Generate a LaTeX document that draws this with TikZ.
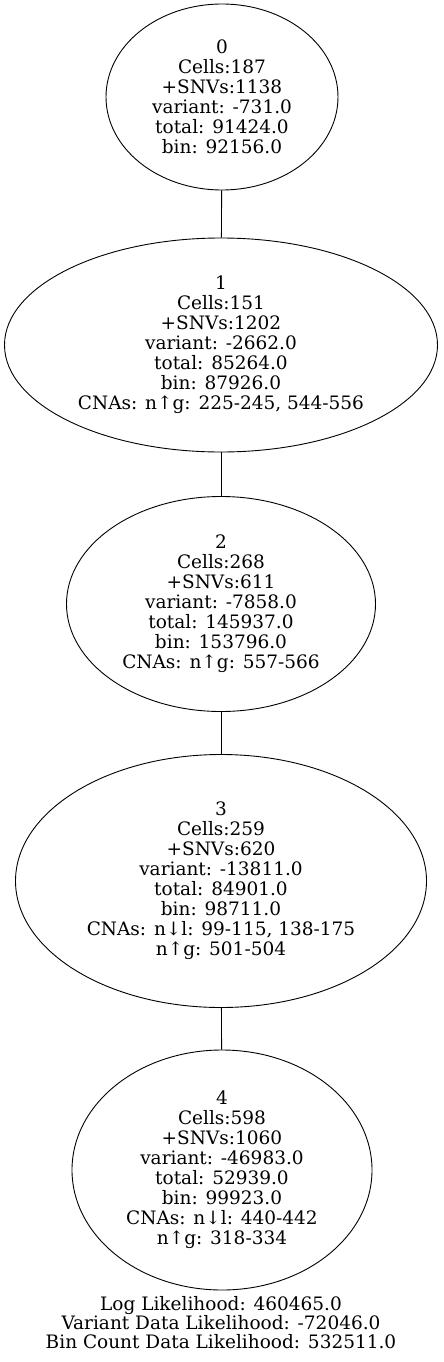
\documentclass[tikz,border=0pt]{standalone}
\usepackage{fontspec}
\setmainfont{DejaVu Serif}
\usetikzlibrary{shapes.geometric}

\tikzset{
    clone/.style={draw, ellipse, inner sep=0pt, align=center, line width=0.9pt,
        font=\fontsize{18.5}{20}\selectfont},
}

\begin{document}
\begin{tikzpicture}[x=1pt, y=-1pt]
    \useasboundingbox (0,0) rectangle (444,1362);

    \node[clone, minimum width=232, minimum height=186] (n0) at (222,97)
        {0\\Cells:187\\+SNVs:1138\\variant: -731.0\\total: 91424.0\\bin: 92156.0};
    \node[clone, minimum width=433, minimum height=214] (n1) at (221,345)
        {1\\Cells:151\\+SNVs:1202\\variant: -2662.0\\total: 85264.0\\bin: 87926.0\\CNAs: n↑g: 225-245, 544-556};
    \node[clone, minimum width=309, minimum height=215] (n2) at (221,604)
        {2\\Cells:268\\+SNVs:611\\variant: -7858.0\\total: 145937.0\\bin: 153796.0\\CNAs: n↑g: 557-566};
    \node[clone, minimum width=411, minimum height=253] (n3) at (221,881)
        {3\\Cells:259\\+SNVs:620\\variant: -13811.0\\total: 84901.0\\bin: 98711.0\\CNAs: n↓l: 99-115, 138-175\\n↑g: 501-504};
    \node[clone, minimum width=300, minimum height=240] (n4) at (222,1170)
        {4\\Cells:598\\+SNVs:1060\\variant: -46983.0\\total: 52939.0\\bin: 99923.0\\CNAs: n↓l: 440-442\\n↑g: 318-334};

    \node[align=center, inner sep=0pt, font=\fontsize{18.5}{19}\selectfont] (summary) at (221,1323)
        {Log Likelihood: 460465.0\\Variant Data Likelihood: -72046.0\\Bin Count Data Likelihood: 532511.0};

    \draw[line width=0.9pt] (n0) -- (n1);
    \draw[line width=0.9pt] (n1) -- (n2);
    \draw[line width=0.9pt] (n2) -- (n3);
    \draw[line width=0.9pt] (n3) -- (n4);
\end{tikzpicture}
\end{document}
